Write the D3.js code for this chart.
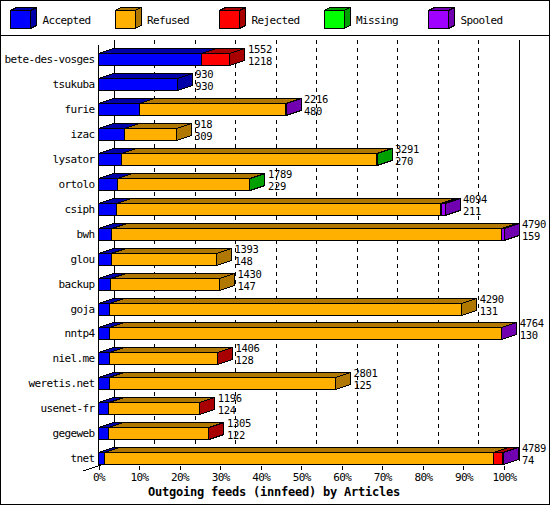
<!DOCTYPE html>
<html><head><meta charset="utf-8">
<script src="https://cdn.jsdelivr.net/npm/d3@7"></script>
<style>
body{margin:0;background:#fff;}
text{font-family:"DejaVu Sans Mono",monospace;}
</style></head>
<body>
<script>
const categories = ["bete-des-vosges","tsukuba","furie","izac","lysator","ortolo","csiph","bwh","glou","backup","goja","nntp4","niel.me","weretis.net","usenet-fr","gegeweb","tnet"];
const totals   = [1552, 930, 2216, 918, 3291, 1789, 4094, 4790, 1393, 1430, 4290, 4764, 1406, 2801, 1196, 1305, 4789];
const accepted = [1218, 930, 480, 309, 270, 229, 211, 159, 148, 147, 131, 130, 128, 125, 124, 122, 74];
const refused  = [0, 0, 1728, 609, 3011, 1552, 3829, 4606, 1245, 1283, 4159, 4628, 1274, 2676, 1067, 1180, 4590];
const rejected = [334, 0, 0, 0, 0, 0, 0, 0, 0, 0, 0, 0, 4, 0, 5, 3, 106];
const missing  = [0, 0, 0, 0, 10, 8, 15, 0, 0, 0, 0, 0, 0, 0, 0, 0, 0];
const spooled  = [0, 0, 8, 0, 0, 0, 39, 25, 0, 0, 0, 6, 0, 0, 0, 0, 19];
const seriesNames = ["Accepted","Refused","Rejected","Missing","Spooled"];
const seriesData = [accepted, refused, rejected, missing, spooled];
const frontColors = ["#0000ff","#ffb000","#ff0000","#00ff00","#a000ff"];
const darkColors  = ["#0000a8","#b07800","#a80000","#00a000","#7000b0"];
const tickValues = [0,10,20,30,40,50,60,70,80,90,100];
const xTitle = "Outgoing feeds (innfeed) by Articles";

const W = 550, H = 505;
const DX = 15, DY = 5;
const svg = d3.select("body").append("svg").attr("width", W).attr("height", H)
  .attr("shape-rendering","crispEdges");

svg.append("rect").attr("x",0.5).attr("y",0.5).attr("width",W-1).attr("height",H-1)
  .attr("fill","#fff").attr("stroke","#000");
svg.append("line").attr("x1",0).attr("x2",W).attr("y1",35.5).attr("y2",35.5).attr("stroke","#000");

// legend
const lg = svg.append("g");
seriesNames.forEach((name,i)=>{
  const x0 = 10.5 + i*104.5, y0 = 10.5, w = 20, h = 18, dx = 6, dy = 3;
  const g = lg.append("g");
  g.append("polygon").attr("points",[[x0,y0],[x0+dx,y0-dy],[x0+w+dx,y0-dy],[x0+w,y0]].join(" "))
    .attr("fill",darkColors[i]).attr("stroke","#000");
  g.append("polygon").attr("points",[[x0+w,y0],[x0+w+dx,y0-dy],[x0+w+dx,y0+h-dy],[x0+w,y0+h]].join(" "))
    .attr("fill",darkColors[i]).attr("stroke","#000");
  g.append("rect").attr("x",x0).attr("y",y0).attr("width",w).attr("height",h)
    .attr("fill",frontColors[i]).attr("stroke","#000");
  g.append("text").attr("x",x0+32).attr("y",20).attr("dy","0.35em")
    .attr("font-size",11).attr("letter-spacing",-0.62).text(name);
});

const maxTotal = d3.max(totals);
const x = d3.scaleLinear().domain([0,100]).range([98.5,504]);
const y = d3.scalePoint().domain(categories).range([59,458.2]);

// back wall grid
const grid = svg.append("g");
tickValues.forEach(t=>{
  const xx = Math.round(x(t)+DX)+0.5;
  grid.append("line").attr("x1",xx).attr("x2",xx).attr("y1",40).attr("y2",461)
    .attr("stroke","#000").attr("stroke-dasharray",(t===0||t===100)?null:"4,4");
});
// front left axis & floor corner
svg.append("line").attr("x1",98.5).attr("x2",98.5).attr("y1",45).attr("y2",466).attr("stroke","#000");
svg.append("line").attr("x1",113).attr("y1",461).attr("x2",83).attr("y2",471).attr("stroke","#000");

// x axis
const xAxis = svg.append("g").attr("transform","translate(0,466)")
  .call(d3.axisBottom(x).tickValues(tickValues).tickFormat(d=>d+"%").tickSize(4).tickPadding(3));
xAxis.select(".domain").remove();
xAxis.selectAll("text").attr("font-family","DejaVu Sans Mono").attr("font-size",11).attr("letter-spacing",-0.62).attr("fill","#000");
xAxis.selectAll("line").attr("stroke","#000");

// y axis labels
const yAxis = svg.append("g").attr("transform","translate(98.5,0)")
  .call(d3.axisLeft(y).tickSize(0).tickPadding(4));
yAxis.select(".domain").remove();
yAxis.selectAll("text").attr("font-family","DejaVu Sans Mono").attr("font-size",11).attr("letter-spacing",-0.62).attr("fill","#000");

// bars
const bars = svg.append("g");
const labels = svg.append("g");
categories.forEach((c,ci)=>{
  const yc = Math.round(y(c));
  const yt = yc - 6 + 0.5, yb = yc + 6 + 0.5;
  let cum = 0;
  seriesData.forEach((arr,si)=>{
    const v = arr[ci];
    if (!v) return;
    const x0 = x(cum/maxTotal*100), x1 = x((cum+v)/maxTotal*100);
    cum += v;
    const g = bars.append("g");
    g.append("polygon").attr("points",[[x0,yt],[x0+DX,yt-DY],[x1+DX,yt-DY],[x1,yt]].join(" "))
      .attr("fill",darkColors[si]).attr("stroke","#000");
    g.append("polygon").attr("points",[[x1,yt],[x1+DX,yt-DY],[x1+DX,yb-DY],[x1,yb]].join(" "))
      .attr("fill",darkColors[si]).attr("stroke","#000");
    g.append("rect").attr("x",x0).attr("y",yt).attr("width",Math.max(0,x1-x0)).attr("height",yb-yt)
      .attr("fill",frontColors[si]).attr("stroke","#000");
  });
  const xe = x(totals[ci]/maxTotal*100) + DX + 3;
  labels.append("text").attr("x",xe).attr("y",yc-9.5).attr("dy","0.35em")
    .attr("font-size",10.5).attr("letter-spacing",-0.32).text(totals[ci]);
  labels.append("text").attr("x",xe).attr("y",yc+2).attr("dy","0.35em")
    .attr("font-size",10.5).attr("letter-spacing",-0.32).text(accepted[ci]);
});

// title
svg.append("text").attr("x",274).attr("y",492).attr("dy","0.35em").attr("text-anchor","middle")
  .attr("font-weight","bold").attr("font-size",12).attr("letter-spacing",-0.22).text(xTitle);
</script>
</body></html>
